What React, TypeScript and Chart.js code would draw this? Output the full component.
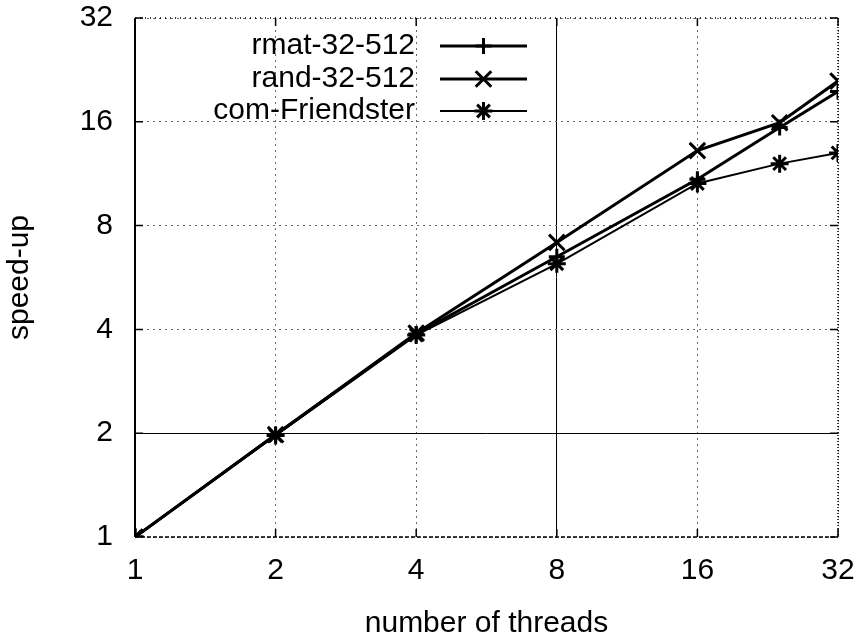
import React, { useEffect, useRef } from 'react';
import { Chart, registerables } from 'chart.js';

Chart.register(...registerables);

const threads = [1, 2, 4, 8, 16, 24, 32];
const rmatSpeedup = [1, 1.98, 3.88, 6.5, 10.9, 15.4, 19.6];
const randSpeedup = [1, 1.98, 3.9, 7.15, 13.2, 15.9, 21.0];
const friendsterSpeedup = [1, 1.97, 3.85, 6.2, 10.6, 12.1, 13.0];
const tickValues = [1, 2, 4, 8, 16, 32];
const seriesLabels = ['rmat-32-512', 'rand-32-512', 'com-Friendster'];
const xTitle = 'number of threads';
const yTitle = 'speed-up';

const FONT = '"Liberation Sans", Arial, Helvetica, sans-serif';
const FS = 30;

function drawMarker(ctx: CanvasRenderingContext2D, style: string, x: number, y: number, r: number) {
  ctx.beginPath();
  if (style === 'cross' || style === 'star') {
    ctx.moveTo(x - r, y);
    ctx.lineTo(x + r, y);
    ctx.moveTo(x, y - r);
    ctx.lineTo(x, y + r);
  }
  if (style === 'crossRot' || style === 'star') {
    const d = r * Math.SQRT1_2;
    ctx.moveTo(x - d, y - d);
    ctx.lineTo(x + d, y + d);
    ctx.moveTo(x - d, y + d);
    ctx.lineTo(x + d, y - d);
  }
  ctx.stroke();
}

const framePlugin = {
  id: 'gnuplotFrame',
  afterDatasetsDraw(chart: any) {
    const { ctx, chartArea } = chart;
    const { left, right, top, bottom } = chartArea;
    const xs = chart.scales.x;
    const ys = chart.scales.y;
    ctx.save();
    ctx.strokeStyle = '#000';
    ctx.lineWidth = 2;
    ctx.setLineDash([]);
    ctx.beginPath();
    ctx.moveTo(left, top);
    ctx.lineTo(left, bottom);
    ctx.stroke();
    ctx.lineWidth = 1.5;
    ctx.setLineDash([4, 2]);
    ctx.beginPath();
    ctx.moveTo(left, bottom);
    ctx.lineTo(right, bottom);
    ctx.stroke();
    ctx.setLineDash([1, 4]);
    ctx.beginPath();
    ctx.moveTo(left, top);
    ctx.lineTo(right, top);
    ctx.stroke();
    ctx.setLineDash([1, 2]);
    ctx.beginPath();
    ctx.moveTo(right, top);
    ctx.lineTo(right, bottom);
    ctx.stroke();
    ctx.setLineDash([]);
    ctx.lineWidth = 1.5;
    const tl = 8;
    tickValues.forEach((v) => {
      const px = xs.getPixelForValue(v);
      const py = ys.getPixelForValue(v);
      ctx.beginPath();
      ctx.moveTo(px, bottom);
      ctx.lineTo(px, bottom - tl);
      ctx.moveTo(px, top);
      ctx.lineTo(px, top + tl);
      ctx.moveTo(left, py);
      ctx.lineTo(left + tl, py);
      ctx.moveTo(right, py);
      ctx.lineTo(right - tl, py);
      ctx.stroke();
    });

    const textRight = 415;
    const lineStart = 440;
    const lineEnd = 527;
    const rowY = [46, 79, 111];
    ctx.font = `${FS}px ${FONT}`;
    ctx.textAlign = 'right';
    ctx.textBaseline = 'middle';
    ctx.fillStyle = '#000';
    chart.data.datasets.forEach((ds: any, i: number) => {
      const y = rowY[i];
      ctx.fillText(ds.label, textRight, y);
      ctx.strokeStyle = ds.borderColor;
      ctx.lineWidth = ds.borderWidth;
      ctx.beginPath();
      ctx.moveTo(lineStart, y);
      ctx.lineTo(lineEnd, y);
      ctx.stroke();
      ctx.lineWidth = ds.pointBorderWidth;
      drawMarker(ctx, ds.pointStyle, (lineStart + lineEnd) / 2, y, ds.pointRadius);
    });
    ctx.restore();
  },
};

function gridColor(solidValue: number) {
  return (c: any) => (c.tick && c.tick.value === solidValue ? '#000' : '#666');
}
function gridDash(solidValue: number) {
  return (c: any) => (c.tick && c.tick.value === solidValue ? [] : [2, 4]);
}

export default function App() {
  const canvasRef = useRef<HTMLCanvasElement | null>(null);

  useEffect(() => {
    if (!canvasRef.current) return;
    const mk = (label: string, data: number[], style: string, lw: number, r: number) => ({
      label,
      data: threads.map((t, i) => ({ x: t, y: data[i] })),
      borderColor: '#000',
      backgroundColor: '#000',
      borderWidth: lw,
      pointStyle: style,
      pointRadius: r,
      pointHoverRadius: r,
      pointBorderWidth: 3,
      pointBorderColor: '#000',
      tension: 0,
      fill: false,
    });
    const chart = new Chart(canvasRef.current, {
      type: 'line',
      data: {
        datasets: [
          mk(seriesLabels[0], rmatSpeedup, 'cross', 3, 8),
          mk(seriesLabels[1], randSpeedup, 'crossRot', 3, 11),
          mk(seriesLabels[2], friendsterSpeedup, 'star', 2, 9),
        ],
      },
      options: {
        animation: false,
        responsive: true,
        maintainAspectRatio: false,
        layout: { padding: { top: 18, right: 29, left: 0, bottom: 0 } },
        plugins: { legend: { display: false }, tooltip: { enabled: false } },
        scales: {
          x: {
            type: 'logarithmic',
            min: 1,
            max: 32,
            afterBuildTicks: (s: any) => {
              s.ticks = tickValues.map((v) => ({ value: v }));
            },
            afterFit: (s: any) => {
              s.height = 105;
              s.paddingLeft = 0;
              s.paddingRight = 0;
              s.paddingTop = 0;
              s.paddingBottom = 0;
            },
            ticks: {
              callback: (v: any) => String(v),
              font: { family: FONT, size: FS },
              color: '#000',
              padding: 16,
              autoSkip: false,
              maxRotation: 0,
            },
            grid: { color: gridColor(8), lineWidth: 1, drawTicks: false },
            border: { display: false, dash: gridDash(8) },
            title: {
              display: true,
              text: xTitle,
              font: { family: FONT, size: FS },
              color: '#000',
              padding: { top: 4, bottom: 0 },
            },
          },
          y: {
            type: 'logarithmic',
            min: 1,
            max: 32,
            afterBuildTicks: (s: any) => {
              s.ticks = tickValues.map((v) => ({ value: v }));
            },
            afterFit: (s: any) => {
              s.width = 135;
              s.paddingLeft = 0;
              s.paddingRight = 0;
              s.paddingTop = 0;
              s.paddingBottom = 0;
            },
            ticks: {
              callback: (v: any) => String(v),
              font: { family: FONT, size: FS },
              color: '#000',
              padding: 22,
              autoSkip: false,
            },
            grid: { color: gridColor(2), lineWidth: 1, drawTicks: false },
            border: { display: false, dash: gridDash(2) },
            title: {
              display: true,
              text: yTitle,
              font: { family: FONT, size: FS },
              color: '#000',
              padding: { top: 2, bottom: 0 },
            },
          },
        },
      },
      plugins: [framePlugin],
    } as any);
    return () => chart.destroy();
  }, []);

  return (
    <div style={{ position: 'absolute', left: 0, top: 0, width: 867, height: 642, background: '#fff' }}>
      <canvas ref={canvasRef} />
    </div>
  );
}
